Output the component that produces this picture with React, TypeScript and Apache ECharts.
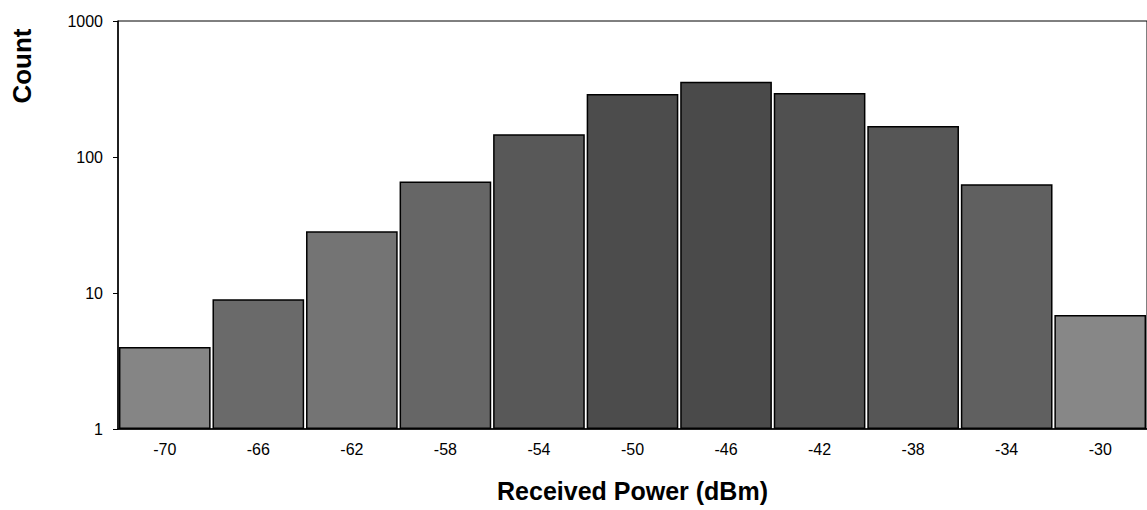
import React, { useEffect, useRef } from "react";
import * as echarts from "echarts";

const categories = ["-70", "-66", "-62", "-58", "-54", "-50", "-46", "-42", "-38", "-34", "-30"];
const counts = [4, 9, 28.5, 66, 147, 290, 358, 295, 169, 63, 6.9];
const barShades = ["#858585", "#6a6a6a", "#747474", "#666666", "#585858", "#4c4c4c", "#4a4a4a", "#505050", "#565656", "#606060", "#878787"];
const yTicks = [1, 10, 100, 1000];

const FONT = "Liberation Sans, Arial, sans-serif";

export default function App() {
  const ref = useRef<HTMLDivElement>(null);
  useEffect(() => {
    if (!ref.current) return;
    const chart = echarts.init(ref.current, undefined, { renderer: "svg" });
    chart.setOption({
      animation: false,
      backgroundColor: "#ffffff",
      textStyle: { fontFamily: FONT },
      grid: {
        left: 118,
        right: -1,
        top: 21,
        bottom: 81,
        show: true,
        borderColor: "#000",
        borderWidth: 1,
        backgroundColor: "transparent",
      },
      xAxis: {
        type: "category",
        data: categories,
        name: "Received Power (dBm)",
        nameLocation: "middle",
        nameGap: 49,
        nameTextStyle: { fontSize: 25, fontWeight: "bold", color: "#000", fontFamily: FONT },
        axisLine: { lineStyle: { color: "#000", width: 1.5 } },
        axisTick: { show: false },
        axisLabel: { color: "#000", fontSize: 16, margin: 12, fontFamily: FONT },
      },
      yAxis: {
        type: "log",
        logBase: 10,
        min: 1,
        max: 1000,
        axisLine: { show: true, lineStyle: { color: "#000", width: 1.5 } },
        axisTick: { show: true, length: 5, lineStyle: { color: "#000" } },
        minorTick: { show: false },
        splitLine: { show: false },
        axisLabel: {
          color: "#000",
          fontSize: 16,
          margin: 15,
          padding: [7, 0, 0, 0],
          fontFamily: FONT,
          formatter: (v: number) => (yTicks.indexOf(Math.round(v)) >= 0 ? String(Math.round(v)) : ""),
        },
      },
      graphic: [
        {
          type: "text",
          x: 22,
          y: 66,
          rotation: Math.PI / 2,
          style: {
            text: "Count",
            fontSize: 26,
            fontWeight: "bold",
            fill: "#000",
            align: "center",
            verticalAlign: "middle",
            fontFamily: FONT,
          },
        },
      ],
      series: [
        {
          type: "bar",
          barCategoryGap: "2%",
          data: counts.map((v, i) => ({
            value: v,
            itemStyle: { color: barShades[i] },
          })),
          itemStyle: { borderColor: "#000", borderWidth: 1.5 },
        },
      ],
    });
    return () => chart.dispose();
  }, []);
  return (
    <div
      ref={ref}
      style={{ position: "fixed", left: 0, top: 0, width: 1147, height: 510, background: "#fff" }}
    />
  );
}
